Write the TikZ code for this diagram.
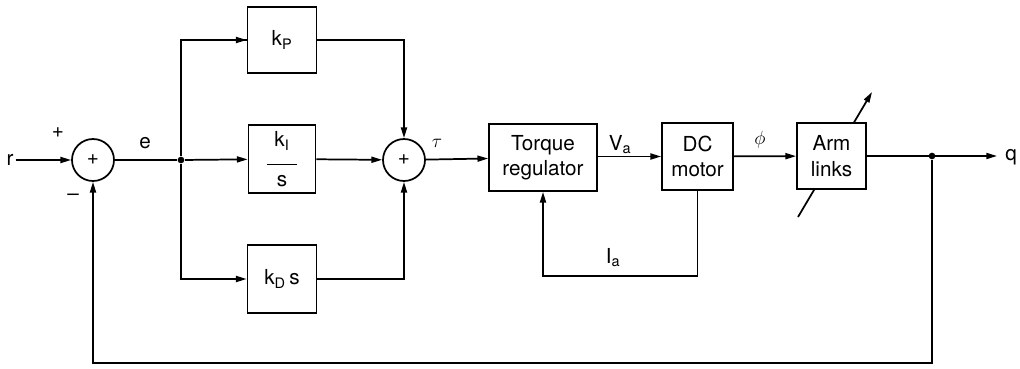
\documentclass[tikz,border=0pt]{standalone}
\usepackage{fontspec}
\setmainfont{TeX Gyre Heros}
\usetikzlibrary{arrows.meta,calc}
\begin{document}
\begin{tikzpicture}[x=0.75pt,y=-0.75pt,
  line width=1.3pt,
  every node/.style={font=\fontsize{15.5}{19}\selectfont},
  blk/.style={draw,fill=white,inner sep=0pt,align=center},
  sumc/.style={draw,circle,minimum size=31.5pt,inner sep=0pt},
  lbl/.style={inner sep=1pt},
  arr/.style={-{Triangle[length=8pt,width=4.5pt]}},
  dot/.style={circle,fill,inner sep=0pt,minimum size=5pt}]
\useasboundingbox (0,0) rectangle (1020,368);
% diagonal arrow through arm links (drawn first, box covers it)
\coordinate (d1) at (798,217);
\coordinate (d2) at (872,92);
\draw[arr] (d1) -- (d2);
% nodes
\node[lbl] (r) at (10,160) {r};
\node[sumc] (s1) at (93,160) {+};
\node[lbl] (pl) at (58,133) {+};
\node[lbl] (mi) at (73,197) {\textendash};
\node[lbl] (e) at (145,143) {e};
\node[dot] (j1) at (181,160) {};
\node[blk,minimum width=51.75pt,minimum height=49.5pt] (kp) at (282,40) {k\textsubscript{P}};
\node[blk,minimum width=50.25pt,minimum height=51pt] (ki) at (282,159) {k\textsubscript{$\mathrm{I}$}\\[-5pt]\rule{22pt}{0.9pt}\\[-3pt]s};
\node[blk,minimum width=51.75pt,minimum height=51pt] (kd) at (282,279) {k\textsubscript{D}\,s};
\node[sumc] (s2) at (404,160) {+};
\node[lbl] (tau) at (437,143) {$\tau$};
\node[blk,minimum width=81pt,minimum height=50.25pt] (tr) at (543,157.5) {Torque\\regulator};
\node[lbl] (va) at (620,145) {V\textsubscript{a}};
\node[blk,minimum width=53.25pt,minimum height=50.25pt] (dc) at (697.5,156.5) {DC\\motor};
\node[lbl] (phi) at (760,140) {$\phi$};
\node[blk,minimum width=51.75pt,minimum height=49.5pt] (arm) at (831.5,156) {Arm\\links};
\node[dot] (j2) at (932,156) {};
\node[lbl] (q) at (1011,157) {q};
\node[lbl] (ia) at (613,258) {$\mathrm{I}$\textsubscript{a}};
\coordinate (fb) at (93,363);
\coordinate (qe) at (997,156);
% connectors
\draw[arr] (r) -- (s1);
\draw (s1) -- (j1);
\draw (j1) |- (kp.west |- kp) ;
\draw[arr] (j1 |- kp) -- (kp.west);
\draw[arr] (j1) -- (ki);
\draw[arr] (j1) |- (kd.west);
\draw[arr] (kp.east) -| (s2.north);
\draw[arr] (ki) -- (s2);
\draw[arr] (kd.east) -| (s2.south);
\draw[arr] (s2) -- (tr);
\draw[arr] (tr.east |- dc) -- (dc.west);
\draw[arr] (dc.south) -- ++(0,85) -| (tr.south);
\draw[arr] (dc) -- (arm);
\draw[arr] (arm) -- (qe);
\draw[arr] (j2) |- (fb) -- (s1.south);
\end{tikzpicture}
\end{document}
